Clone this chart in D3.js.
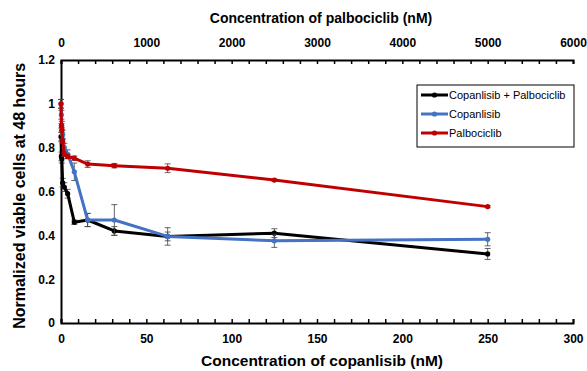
<!DOCTYPE html>
<html>
<head>
  <script src="https://cdnjs.cloudflare.com/ajax/libs/d3/7.8.5/d3.min.js"></script>
  <style>
    body { margin: 0; background: #fff; }
    text { font-family: Arial, "Liberation Sans", sans-serif; }
  </style>
</head>
<body>
  <svg width="587" height="371"></svg>
  <script>
    // doses (nM)
    const copDoses = [0, 0.24, 0.49, 0.98, 1.95, 3.9, 7.8, 15.6, 31.25, 62.5, 125, 250];
    const palDoses = [0, 4.9, 9.8, 19.5, 39, 78, 156, 312.5, 625, 1250, 2500, 5000];

    // normalized viability + error
    const comboVals = [0.85, 0.76, 0.75, 0.64, 0.62, 0.59, 0.46, 0.47, 0.42, 0.395, 0.41, 0.315];
    const comboErr  = [0.02, 0.02, 0.02, 0.02, 0.02, 0.02, 0.01, 0.03, 0.02, 0.02, 0.02, 0.025];
    const copVals   = [1.0, 0.95, 0.9, 0.86, 0.8, 0.77, 0.69, 0.47, 0.47, 0.395, 0.375, 0.382];
    const copErr    = [0.02, 0.02, 0.02, 0.02, 0.02, 0.02, 0.04, 0.03, 0.07, 0.04, 0.03, 0.03];
    const palVals   = [1.0, 0.9, 0.88, 0.83, 0.77, 0.76, 0.752, 0.725, 0.718, 0.706, 0.652, 0.531];
    const palErr    = [0.02, 0.01, 0.01, 0.01, 0.01, 0.01, 0.01, 0.015, 0.01, 0.02, 0.005, 0.005];

    const yTicks = [0, 0.2, 0.4, 0.6, 0.8, 1, 1.2];
    const bottomTicks = [0, 50, 100, 150, 200, 250, 300];
    const topTicks = [0, 1000, 2000, 3000, 4000, 5000, 6000];

    const svg = d3.select('svg');
    const margin = { top: 60, right: 14, bottom: 48, left: 61 };
    const width = 587, height = 371;

    const x = d3.scaleLinear().domain([0, 300]).range([margin.left, width - margin.right]);
    const xTop = d3.scaleLinear().domain([0, 6000]).range([margin.left, width - margin.right]);
    const y = d3.scaleLinear().domain([0, 1.2]).range([height - margin.bottom, margin.top]);

    // axes
    const bottomAxis = svg.append('g')
      .attr('transform', `translate(0,${y(0)})`)
      .call(d3.axisBottom(x).tickValues(d3.range(0, 301, 10)).tickSize(-4)
        .tickFormat(d => bottomTicks.includes(d) ? d : ''));
    const topAxis = svg.append('g')
      .attr('transform', `translate(0,${y(1.2)})`)
      .call(d3.axisTop(xTop).tickValues(d3.range(0, 6001, 200)).tickSize(-4)
        .tickFormat(d => topTicks.includes(d) ? d : ''));
    const leftAxis = svg.append('g')
      .attr('transform', `translate(${margin.left},0)`)
      .call(d3.axisLeft(y).tickValues(yTicks).tickSize(0).tickFormat(d => d));

    [bottomAxis, topAxis, leftAxis].forEach(a => {
      a.select('.domain').attr('stroke', '#000').attr('stroke-width', 2);
      a.selectAll('.tick line').attr('stroke', '#000').attr('stroke-width', 1.5);
      a.selectAll('text').attr('font-size', 12).attr('font-weight', 'bold').attr('fill', '#000');
    });
    bottomAxis.selectAll('text').attr('dy', '1.4em');
    topAxis.selectAll('text').attr('dy', '-0.8em');
    leftAxis.selectAll('text').attr('x', -6);

    // titles
    svg.append('text').attr('x', 321).attr('y', 23).attr('text-anchor', 'middle')
      .attr('font-size', 14).attr('font-weight', 'bold').text('Concentration of palbociclib (nM)');
    svg.append('text').attr('x', 322).attr('y', 366).attr('text-anchor', 'middle')
      .attr('font-size', 15.5).attr('font-weight', 'bold').text('Concentration of copanlisib (nM)');
    svg.append('text').attr('transform', `translate(25,${y(0.58)}) rotate(-90)`).attr('text-anchor', 'middle')
      .attr('font-size', 16).attr('font-weight', 'bold').text('Normalized viable cells at 48 hours');

    const series = [
      { name: 'Copanlisib  + Palbociclib', color: '#000000', xs: copDoses, sx: x, vals: comboVals, err: comboErr },
      { name: 'Copanlisib', color: '#4472c4', xs: copDoses, sx: x, vals: copVals, err: copErr },
      { name: 'Palbociclib', color: '#c00000', xs: palDoses, sx: xTop, vals: palVals, err: palErr }
    ];

    const line = d3.line().x(d => d.px).y(d => y(d.v));

    series.forEach(s => {
      const pts = s.vals.map((v, i) => ({ px: s.sx(s.xs[i]), v, e: s.err[i] }));
      const g = svg.append('g');
      // error bars
      const eb = g.selectAll('.eb').data(pts).enter().append('g').attr('stroke', '#404040').attr('stroke-width', 0.8);
      eb.append('line').attr('x1', d => d.px).attr('x2', d => d.px)
        .attr('y1', d => y(d.v - d.e)).attr('y2', d => y(d.v + d.e));
      eb.append('line').attr('x1', d => d.px - 3).attr('x2', d => d.px + 3)
        .attr('y1', d => y(d.v - d.e)).attr('y2', d => y(d.v - d.e));
      eb.append('line').attr('x1', d => d.px - 3).attr('x2', d => d.px + 3)
        .attr('y1', d => y(d.v + d.e)).attr('y2', d => y(d.v + d.e));
      g.append('path').datum(pts).attr('d', line).attr('fill', 'none')
        .attr('stroke', s.color).attr('stroke-width', 3).attr('stroke-linejoin', 'round');
      g.selectAll('circle').data(pts).enter().append('circle')
        .attr('cx', d => d.px).attr('cy', d => y(d.v)).attr('r', 2.6).attr('fill', s.color);
    });

    // legend
    const leg = svg.append('g').attr('transform', 'translate(417,85)');
    leg.append('rect').attr('width', 157).attr('height', 62).attr('fill', '#fff')
      .attr('stroke', '#000').attr('stroke-width', 1);
    series.forEach((s, i) => {
      const ly = 10 + i * 19;
      leg.append('line').attr('x1', 4).attr('x2', 31).attr('y1', ly).attr('y2', ly)
        .attr('stroke', s.color).attr('stroke-width', 3);
      leg.append('circle').attr('cx', 17.5).attr('cy', ly).attr('r', 2.6).attr('fill', s.color);
      leg.append('text').attr('x', 32).attr('y', ly + 4).attr('font-size', 11).text(s.name);
    });
  </script>
</body>
</html>
